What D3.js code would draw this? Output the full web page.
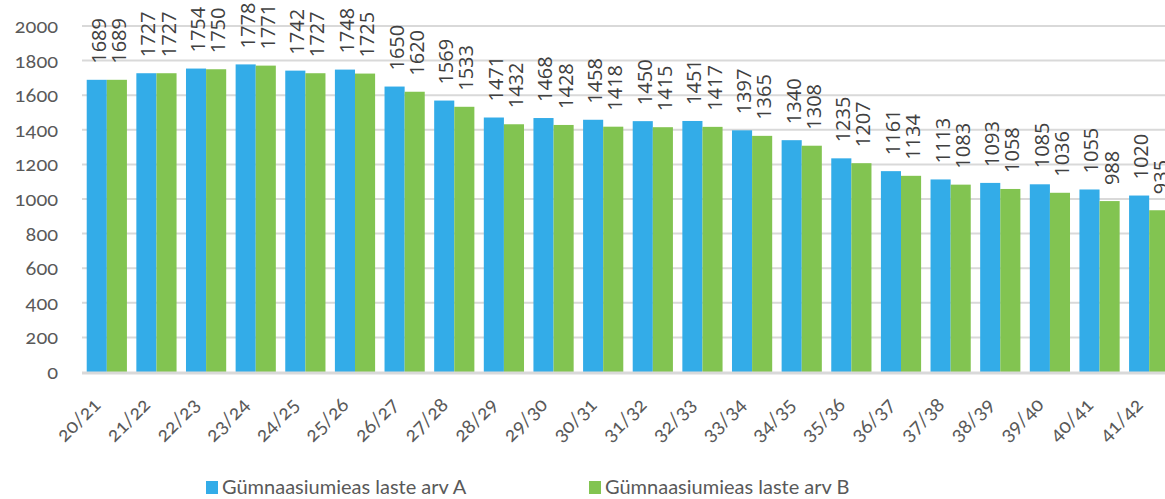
<!DOCTYPE html>
<html><head><meta charset="utf-8">
<script src="https://cdn.jsdelivr.net/npm/d3@7"></script>
<style>
body{margin:0;background:#fff;}
svg{display:block;}
.tick text{fill:#595959;}
.ytick text{font-family:Lato,sans-serif;font-variant-numeric:oldstyle-nums;font-feature-settings:"onum" 1;}
.xtick text{font-family:Lato,sans-serif;font-variant-numeric:oldstyle-nums;font-feature-settings:"onum" 1;}
</style></head>
<body>
<svg id="chart" width="1165" height="499"></svg>
<script>
const categories = ["20/21","21/22","22/23","23/24","24/25","25/26","26/27","27/28","28/29","29/30","30/31","31/32","32/33","33/34","34/35","35/36","36/37","37/38","38/39","39/40","40/41","41/42"];
const seriesA = [1689,1727,1754,1778,1742,1748,1650,1569,1471,1468,1458,1450,1451,1397,1340,1235,1161,1113,1093,1085,1055,1020];
const seriesB = [1689,1727,1750,1771,1727,1725,1620,1533,1432,1428,1418,1415,1417,1365,1308,1207,1134,1083,1058,1036,988,935];
const seriesNames = ["Gümnaasiumieas laste arv A","Gümnaasiumieas laste arv B"];
const yTicks = [0,200,400,600,800,1000,1200,1400,1600,1800,2000];
const colors = ["#33ACE8","#82C451"];

const svg = d3.select("#chart");
const mLeft = 82, mRight = 1174, mTop = 26, mBottom = 372;

const x = d3.scaleBand().domain(categories).range([mLeft, mRight]).paddingInner(0.19).paddingOuter(0.095);
const x1 = d3.scaleBand().domain([0,1]).range([0, x.bandwidth()]);
const y = d3.scaleLinear().domain([0,2000]).range([mBottom, mTop]);

// gridlines
svg.append("g").selectAll("line").data(yTicks.filter(d=>d>0)).join("line")
  .attr("x1", mLeft).attr("x2", mRight)
  .attr("y1", d=>y(d)).attr("y2", d=>y(d))
  .attr("stroke","#D9D9D9").attr("stroke-width",2);

// y axis
const yAxis = svg.append("g").attr("class","ytick").attr("transform",`translate(${mLeft},0)`)
  .call(d3.axisLeft(y).tickValues(yTicks).tickSize(0).tickPadding(24).tickFormat(d3.format("d")));
yAxis.select(".domain").remove();
yAxis.selectAll("text").attr("font-size",20);

// bars
const series = [seriesA, seriesB];
series.forEach((vals, si) => {
  svg.append("g").selectAll("rect").data(vals).join("rect")
    .attr("x", (d,i)=>x(categories[i]) + x1(si))
    .attr("width", x1.bandwidth())
    .attr("y", d=>y(d))
    .attr("height", d=>y(0)-y(d))
    .attr("fill", colors[si]);
});

// baseline
svg.append("line").attr("x1",mLeft).attr("x2",mRight).attr("y1",y(0)+1).attr("y2",y(0)+1)
  .attr("stroke","#D9D9D9").attr("stroke-width",3);

// data labels
series.forEach((vals, si) => {
  svg.append("g").selectAll("text").data(vals).join("text")
    .attr("transform",(d,i)=>{
      const cx = x(categories[i]) + x1(si) + x1.bandwidth()/2 + 9;
      return `translate(${cx},${y(d)-16}) rotate(-90)`;
    })
    .attr("text-anchor","start")
    .attr("font-family","Open Sans, sans-serif")
    .attr("font-size",20)
    .attr("fill","#404040")
    .text(d=>d);
});

// x axis
const xAxis = svg.append("g").attr("class","xtick").attr("transform",`translate(0,${mBottom})`)
  .call(d3.axisBottom(x).tickSize(0).tickPadding(0));
xAxis.select(".domain").remove();
xAxis.selectAll("text")
  .attr("font-size",20)
  .attr("text-anchor","end")
  .attr("dy",0)
  .attr("transform","translate(-5,34) rotate(-45)");

// legend
const legendX = [206, 589];
seriesNames.forEach((name, i) => {
  const g = svg.append("g").attr("transform",`translate(${legendX[i]},481)`);
  g.append("rect").attr("width",12).attr("height",13).attr("fill",colors[i]);
  g.append("text").attr("x",16).attr("y",13)
    .attr("font-family","Lato, sans-serif").attr("font-size",20).attr("fill","#595959")
    .text(name);
});
</script>
</body></html>
